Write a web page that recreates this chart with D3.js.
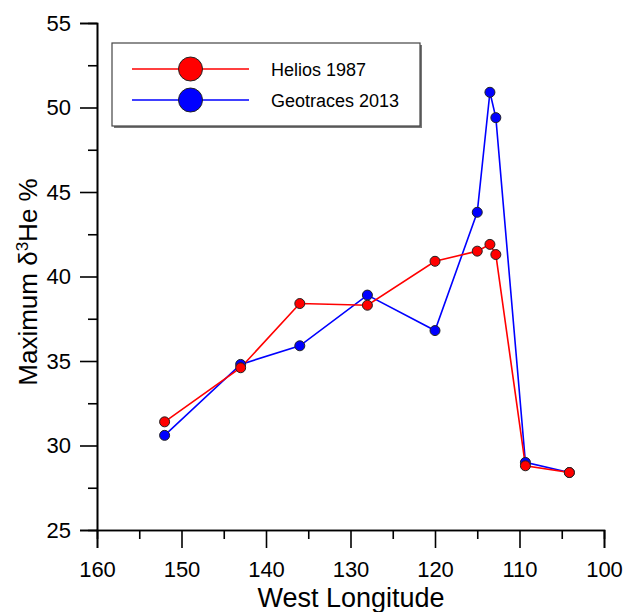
<!DOCTYPE html>
<html>
<head>
<meta charset="utf-8">
<script src="https://cdn.jsdelivr.net/npm/d3@7"></script>
<style>
  html, body { margin: 0; padding: 0; background: #fff; }
  svg { display: block; font-family: "Liberation Sans", Arial, sans-serif; }
</style>
</head>
<body>
<svg id="chart" width="625" height="612"></svg>
<script>
// West longitude of each station (degrees)
const heliosLon = [152, 143, 136, 128, 120, 115, 113.5, 112.8, 109.3, 104.1];
const heliosVal = [31.4, 34.6, 38.4, 38.3, 40.9, 41.5, 41.9, 41.3, 28.8, 28.4];

const geoLon = [152, 143, 136, 128, 120, 115, 113.5, 112.8, 109.3, 104.1];
const geoVal = [30.6, 34.8, 35.9, 38.9, 36.8, 43.8, 50.9, 49.4, 29.0, 28.4];

const seriesNames = ["Helios 1987", "Geotraces 2013"];
const seriesColors = ["#ff0000", "#0000ff"];

const xTicks = [160, 150, 140, 130, 120, 110, 100];
const yTicks = [25, 30, 35, 40, 45, 50, 55];

const svg = d3.select("#chart");
const plotLeft = 97, plotRight = 604, plotTop = 23, plotBottom = 530;

const x = d3.scaleLinear().domain([160, 100]).range([plotLeft, plotRight]);
const y = d3.scaleLinear().domain([25, 55]).range([plotBottom, plotTop]);

// Axes: major ticks with labels, minor ticks in between
const xAxis = d3.axisBottom(x).tickValues(xTicks).tickFormat(d3.format("d")).tickSize(18).tickPadding(13.5);
const xMinor = d3.axisBottom(x).tickValues(d3.range(155, 100, -10)).tickFormat("").tickSize(9);
const yAxis = d3.axisLeft(y).tickValues(yTicks).tickFormat(d3.format("d")).tickSize(17).tickPadding(9);
const yMinor = d3.axisLeft(y).tickValues(d3.range(27.5, 55, 5)).tickFormat("").tickSize(9);

function styleAxis(g) {
  g.select(".domain").attr("stroke", "#000").attr("stroke-width", 1.6);
  g.selectAll(".tick line").attr("stroke", "#000").attr("stroke-width", 1.6);
  g.selectAll(".tick text").attr("fill", "#000").style("font-size", "22px")
    .style("font-family", "'Liberation Sans', Arial, sans-serif");
}

svg.append("g").attr("transform", `translate(0,${plotBottom})`).call(xAxis).call(styleAxis);
svg.append("g").attr("transform", `translate(0,${plotBottom})`).call(xMinor).call(styleAxis);
svg.append("g").attr("transform", `translate(${plotLeft},0)`).call(yAxis).call(styleAxis);
svg.append("g").attr("transform", `translate(${plotLeft},0)`).call(yMinor).call(styleAxis);

// Axis titles
svg.append("text")
  .attr("x", 351).attr("y", 607)
  .attr("text-anchor", "middle")
  .style("font-size", "27px")
  .text("West Longitude");

const yTitle = svg.append("text")
  .attr("transform", "translate(37,282) rotate(-90)")
  .attr("text-anchor", "middle")
  .style("font-size", "26px");
yTitle.append("tspan").text("Maximum δ");
yTitle.append("tspan").attr("baseline-shift", "super").style("font-size", "17px").text("3");
yTitle.append("tspan").text("He %");

// Data series
const series = [
  { name: seriesNames[0], color: seriesColors[0], pts: heliosLon.map((d, i) => [d, heliosVal[i]]) },
  { name: seriesNames[1], color: seriesColors[1], pts: geoLon.map((d, i) => [d, geoVal[i]]) }
];

const line = d3.line().x(d => x(d[0])).y(d => y(d[1]));

// Draw Geotraces first, Helios on top
[series[1], series[0]].forEach(s => {
  svg.append("path").datum(s.pts)
    .attr("d", line)
    .attr("fill", "none")
    .attr("stroke", s.color)
    .attr("stroke-width", 1.6);
});
[series[1], series[0]].forEach(s => {
  svg.append("g").selectAll("circle").data(s.pts).join("circle")
    .attr("cx", d => x(d[0])).attr("cy", d => y(d[1]))
    .attr("r", 5)
    .attr("fill", s.color)
    .attr("stroke", "#222")
    .attr("stroke-width", 1);
});

// Legend
const lg = svg.append("g");
lg.append("rect").attr("x", 114).attr("y", 45).attr("width", 308).attr("height", 83).attr("fill", "#777");
lg.append("rect").attr("x", 112).attr("y", 43).attr("width", 308).attr("height", 83)
  .attr("fill", "#fff").attr("stroke", "#444").attr("stroke-width", 1.2);
series.forEach((s, i) => {
  const ly = 69 + i * 31;
  lg.append("line").attr("x1", 132).attr("x2", 249).attr("y1", ly).attr("y2", ly)
    .attr("stroke", s.color).attr("stroke-width", 1.6);
  lg.append("circle").attr("cx", 190.5).attr("cy", ly).attr("r", 12)
    .attr("fill", s.color).attr("stroke", "#222").attr("stroke-width", 1);
  lg.append("text").attr("x", 271).attr("y", ly + 6.5)
    .style("font-size", "18px").text(s.name);
});
</script>
</body>
</html>
